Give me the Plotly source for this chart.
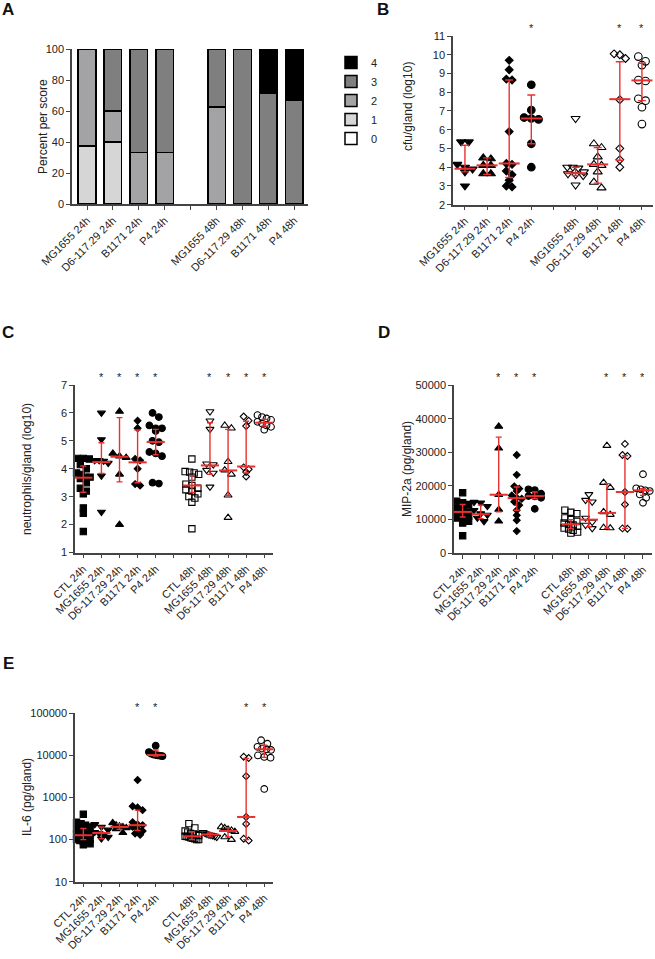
import numpy as np
import plotly.graph_objects as go

W, H = 655, 959
FONT = "Liberation Sans, Arial, sans-serif"
RED = "#e8312f"
AXC = "#444444"

# ---------------- Panel A: score distribution ----------------
score_categories = ["MG1655 24h", "D6-117.29 24h", "B1171 24h", "P4 24h", "",
                    "MG1655 48h", "D6-117.29 48h", "B1171 48h", "P4 48h"]
score_0 = [0, 0, 0, 0, 0, 0, 0, 0, 0]
score_1 = [37.5, 40, 0, 0, 0, 0, 0, 0, 0]
score_2 = [62.5, 20, 33.3, 33.3, 0, 62.5, 0, 0, 0]
score_3 = [0, 40, 66.7, 66.7, 0, 37.5, 100, 71.4, 66.7]
score_4 = [0, 0, 0, 0, 0, 0, 0, 28.6, 33.3]
score_names = ["0", "1", "2", "3", "4"]

# ---------------- Panel B: cfu/gland (log10) ----------------
cfu_categories = ["MG1655 24h", "D6-117.29 24h", "B1171 24h", "P4 24h", "",
                  "MG1655 48h", "D6-117.29 48h", "B1171 48h", "P4 48h"]
cfu_points = [
    [5.35, 5.35, 4.15, 4.0, 3.9, 3.75, 3.0],
    [4.5, 4.45, 4.1, 4.1, 3.65, 3.65],
    [9.7, 9.2, 8.7, 8.65, 5.9, 4.2, 4.15, 3.8, 3.6, 3.3, 3.0, 2.95],
    [8.4, 7.05, 6.65, 6.6, 6.55, 5.25, 4.0],
    [],
    [6.6, 4.0, 4.0, 3.95, 3.75, 3.65, 3.6, 3.55, 3.05],
    [5.25, 5.05, 4.55, 4.15, 4.1, 3.75, 3.2, 2.9],
    [10.05, 10.0, 9.8, 7.6, 5.0, 4.4, 4.0],
    [9.9, 9.65, 9.45, 8.65, 8.6, 7.65, 7.55, 7.2, 6.3],
]
cfu_median = [3.92, 4.1, 4.2, 6.6, None, 3.68, 4.15, 7.63, 8.63]
cfu_q1 = [3.75, 3.62, 3.45, 5.25, None, 3.55, 3.15, 4.37, 7.55]
cfu_q3 = [5.17, 4.5, 8.65, 7.85, None, 4.0, 5.05, 9.63, 9.55]
cfu_sig = [0, 0, 0, 1, 0, 0, 0, 1, 1]

# ---------------- shared categories for C, D, E ----------------
group_categories = ["CTL 24h", "MG1655 24h", "D6-117.29 24h", "B1171 24h", "P4 24h", "",
                    "CTL 48h", "MG1655 48h", "D6-117.29 48h", "B1171 48h", "P4 48h"]

# ---------------- Panel C: neutrophils/gland (log10) ----------------
neut_points = [
    [4.37, 4.37, 4.35, 4.15, 4.0, 3.85, 3.8, 3.7, 3.7, 3.65, 3.5, 3.3, 3.2, 3.1, 2.6, 2.4, 1.75],
    [6.0, 5.05, 4.3, 4.3, 4.28, 4.2, 3.75, 2.45],
    [6.05, 4.55, 4.45, 4.4, 3.8, 2.0],
    [5.72, 5.45, 4.35, 4.3, 4.0, 3.45, 3.4],
    [6.0, 5.85, 5.55, 5.45, 5.45, 5.35, 5.0, 4.95, 4.6, 4.55, 4.45, 3.5, 3.47],
    [],
    [4.35, 3.9, 3.88, 3.85, 3.8, 3.7, 3.45, 3.4, 3.3, 3.25, 3.2, 3.1, 3.0, 2.95, 2.8, 1.85],
    [6.05, 5.72, 5.42, 4.18, 4.15, 3.95, 3.85, 3.35],
    [5.55, 5.45, 4.25, 3.95, 3.8, 3.05, 2.25],
    [5.87, 5.72, 5.53, 4.05, 3.98, 3.88, 3.72],
    [5.92, 5.85, 5.8, 5.75, 5.68, 5.62, 5.55, 5.5, 5.4],
]
neut_median = [3.68, 4.24, 4.43, 4.23, 4.96, None, 3.4, 4.12, 3.94, 4.08, 5.65]
neut_q1 = [3.16, 3.83, 3.53, 3.5, 4.5, None, 3.15, 3.8, 3.04, 3.85, 5.53]
neut_q3 = [4.1, 4.93, 5.83, 5.39, 5.41, None, 3.75, 5.65, 5.41, 5.7, 5.77]
neut_sig = [0, 1, 1, 1, 1, 0, 0, 1, 1, 1, 1]

# ---------------- Panel D: MIP-2a (pg/gland) ----------------
mip_points = [
    [18000, 15500, 15000, 14500, 13500, 13000, 12300, 12000, 11500, 11000, 10500, 10000, 9500, 9000, 5200],
    [15200, 15000, 14000, 12800, 11800, 11400, 10500, 9500],
    [37700, 31200, 17400, 13000, 9500],
    [29200, 23300, 19900, 19200, 18500, 17200, 16500, 16200, 15300, 14300, 12800, 11300, 9800, 6600],
    [19000, 18800, 17700, 17000, 16900, 16500, 13200],
    [],
    [12800, 12200, 11800, 10500, 10000, 9500, 9000, 8600, 8400, 8000, 7500, 7200, 6800, 6300, 6000],
    [17500, 15800, 15300, 10500, 9300, 8400, 7400],
    [32000, 21000, 19500, 12300, 11500, 7600, 7500],
    [32500, 29200, 28900, 18200, 14500, 7400, 7300],
    [23500, 19300, 19000, 18700, 18500, 17500, 16500, 15000],
]
mip_median = [12300, 11600, 17400, 16400, 17000, None, 8600, 10000, 12000, 18200, 18700]
mip_q1 = [10800, 10300, 12300, 12800, 16200, None, 7400, 7900, 7400, 7400, 17200]
mip_q3 = [14500, 14300, 34500, 19700, 18200, None, 10000, 15700, 20700, 29000, 19200]
mip_sig = [0, 0, 1, 1, 1, 0, 0, 0, 1, 1, 1]

# ---------------- Panel E: IL-6 (pg/gland) ----------------
il6_points = [
    [400, 260, 240, 220, 200, 180, 170, 160, 150, 140, 135, 130, 125, 120, 115, 110, 105, 100, 95, 90, 85, 80, 75],
    [230, 200, 170, 150, 140, 130, 115, 105],
    [250, 220, 210, 200, 190, 180, 145],
    [2600, 620, 580, 500, 260, 230, 220, 200, 180, 160, 140, 130],
    [17000, 12000, 11000, 10500, 10200, 10000, 9800, 9600],
    [],
    [240, 190, 160, 150, 140, 135, 130, 125, 120, 118, 115, 110, 108, 105, 100, 100],
    [150, 140, 135, 130, 128, 125, 120, 115],
    [200, 190, 175, 165, 155, 115, 100],
    [9300, 8700, 3200, 345, 235, 105, 95],
    [23000, 19000, 16000, 14500, 14000, 13500, 10000, 9200, 8800, 1600],
]
il6_median = [127, 144, 200, 220, 10200, None, 120, 132, 160, 345, 14000]
il6_q1 = [100, 105, 175, 165, 9700, None, 100, 116, 116, 100, 9000]
il6_q3 = [183, 200, 240, 500, 13400, None, 153, 144, 193, 8500, 17500]
il6_sig = [0, 0, 0, 1, 1, 0, 0, 0, 0, 1, 1]

# ---------------- styles ----------------
score_colors = {"0": "#ffffff", "1": "#d6d6d6", "2": "#a3a3a6", "3": "#7f7f7f", "4": "#000000"}
strain_symbols = {"CTL": "square", "MG1655": "triangle-down", "D6-117.29": "triangle-up",
                  "B1171": "diamond", "P4": "circle"}
symbol_scale = {"square": 0.9, "triangle-down": 1.0, "triangle-up": 1.0, "diamond": 0.75, "circle": 0.95}


def px_x(p):
    return p / W


def px_y(p):
    return 1 - p / H


fig = go.Figure()

# panel geometry (pixel boxes), ranges and star row (pixel y)
panels = {
    "A": dict(xa="x", ya="y", xd=(72, 308), yd=(49, 204), xr=(-0.58, 8.53), yr=(0, 100)),
    "B": dict(xa="x2", ya="y2", xd=(453, 653), yd=(36, 204.7), xr=(-0.54, 8.5), yr=(2, 11), star=28),
    "C": dict(xa="x3", ya="y3", xd=(75, 273.3), yd=(385, 552.5), xr=(-0.46, 10.5), yr=(1, 7), star=377),
    "D": dict(xa="x4", ya="y4", xd=(454, 652), yd=(385, 553.3), xr=(-0.48, 10.5), yr=(0, 50000), star=377),
    "E": dict(xa="x5", ya="y5", xd=(75, 273.3), yd=(713.3, 881.7), xr=(-0.46, 10.5), yr=(1, 5), star=707),
}

# ---------------- Panel A bars ----------------
bar_idx = [i for i, c in enumerate(score_categories) if c != ""]
for name, vals in zip(score_names, [score_0, score_1, score_2, score_3, score_4]):
    fig.add_trace(go.Bar(
        x=bar_idx, y=[vals[i] if vals[i] > 0 else None for i in bar_idx],
        name=name, width=0.68,
        marker=dict(color=score_colors[name], line=dict(color="#000000", width=1.5)),
        xaxis="x", yaxis="y", showlegend=True,
    ))


def swarm_offsets(vals, d, pxx, pxy, logy, maxw):
    v = np.log10(np.array(vals, float)) if logy else np.array(vals, float)
    ypx = v * pxy
    order = np.argsort(-ypx)
    rows = []
    for i in order:
        if rows and abs(ypx[rows[-1][0]] - ypx[i]) < 0.8 * d:
            rows[-1].append(i)
        else:
            rows.append([i])
    offs = np.zeros(len(vals))
    for r in rows:
        n = len(r)
        if n == 1:
            continue
        step = min(0.95 * d, maxw / (n - 1))
        for j, i in enumerate(r):
            offs[i] = (j - (n - 1) / 2) * step
    return offs / pxx


def add_dot_panel(key, cats, points, med, q1, q3, sig, size, medw, capw, logy=False):
    P = panels[key]
    pxx = (P["xd"][1] - P["xd"][0]) / (P["xr"][1] - P["xr"][0])
    pxy = (P["yd"][1] - P["yd"][0]) / (P["yr"][1] - P["yr"][0])
    for i, (c, pts) in enumerate(zip(cats, points)):
        if not pts:
            continue
        strain, t = c.rsplit(" ", 1)
        sym = strain_symbols[strain]
        filled = t == "24h"
        msize = size * symbol_scale[sym]
        offs = swarm_offsets(pts, msize, pxx, pxy, logy, maxw=0.75 * pxx)
        fig.add_trace(go.Scatter(
            x=i + offs, y=pts, mode="markers",
            marker=dict(symbol=sym if filled else sym + "-open", size=msize,
                        color="#000000", line=dict(color="#000000", width=1.1)),
            xaxis=P["xa"], yaxis=P["ya"], showlegend=False, cliponaxis=False,
            hoverinfo="y",
        ))
    idx = [i for i, m in enumerate(med) if m is not None]
    fig.add_trace(go.Scatter(
        x=idx, y=[med[i] for i in idx], mode="markers",
        marker=dict(symbol="line-ew", size=medw, color=RED, line=dict(color=RED, width=2)),
        error_y=dict(type="data", symmetric=False,
                     array=[q3[i] - med[i] for i in idx],
                     arrayminus=[med[i] - q1[i] for i in idx],
                     color=RED, thickness=1.4, width=capw),
        xaxis=P["xa"], yaxis=P["ya"], showlegend=False, cliponaxis=False,
    ))
    for i, s in enumerate(sig):
        if s:
            fig.add_annotation(text="*", x=i, y=px_y(P["star"]),
                               xref=P["xa"], yref="paper", showarrow=False,
                               xanchor="center", yanchor="middle",
                               font=dict(family=FONT, size=11, color="#222"))


add_dot_panel("B", cfu_categories, cfu_points, cfu_median, cfu_q1, cfu_q3, cfu_sig, 8, 15, 4)
add_dot_panel("C", group_categories, neut_points, neut_median, neut_q1, neut_q3, neut_sig, 7, 13, 3)
add_dot_panel("D", group_categories, mip_points, mip_median, mip_q1, mip_q3, mip_sig, 7, 13, 3)
add_dot_panel("E", group_categories, il6_points, il6_median, il6_q1, il6_q3, il6_sig, 7, 13, 3, logy=True)

axis_common = dict(showline=True, linecolor=AXC, linewidth=1.5, ticks="outside", ticklen=4,
                   tickwidth=1.2, tickcolor=AXC, showgrid=False, zeroline=False, automargin=False,
                   tickfont=dict(family=FONT, size=11, color="#222"), fixedrange=True)

layout = dict(
    template="none",
    width=W, height=H, margin=dict(l=0, r=0, t=0, b=0, pad=0),
    paper_bgcolor="white", plot_bgcolor="white",
    barmode="stack", showlegend=True,
    font=dict(family=FONT, color="#222"),
    legend=dict(x=px_x(331), y=px_y(48), xanchor="left", yanchor="top",
                traceorder="reversed", font=dict(family=FONT, size=11, color="#222"),
                bgcolor="rgba(0,0,0,0)", tracegroupgap=0),
)

cats_for = {"A": score_categories, "B": cfu_categories, "C": group_categories,
            "D": group_categories, "E": group_categories}
for k, P in panels.items():
    n = P["xa"][1:]
    xn = "xaxis" + n
    yn = "yaxis" + n
    cats = cats_for[k]
    layout[xn] = dict(axis_common, domain=[px_x(P["xd"][0]), px_x(P["xd"][1])],
                      range=list(P["xr"]), tickmode="array", tickvals=list(range(len(cats))),
                      ticktext=cats, tickangle=-45, anchor=P["ya"])
    ydict = dict(axis_common, domain=[px_y(P["yd"][1]), px_y(P["yd"][0])],
                 range=list(P["yr"]), anchor=P["xa"])
    if k == "A":
        ydict.update(tickmode="array", tickvals=[0, 20, 40, 60, 80, 100])
    elif k == "B":
        ydict.update(tickmode="array", tickvals=list(range(2, 12)))
    elif k == "C":
        ydict.update(tickmode="array", tickvals=list(range(1, 8)))
    elif k == "D":
        ydict.update(tickmode="array", tickvals=[0, 10000, 20000, 30000, 40000, 50000],
                     ticktext=["0", "10000", "20000", "30000", "40000", "50000"])
    elif k == "E":
        ydict.update(type="log", tickmode="array", tickvals=[10, 100, 1000, 10000, 100000],
                     ticktext=["10", "100", "1000", "10000", "100000"])
    layout[yn] = ydict

fig.update_layout(**layout)

# y-axis titles
titles = [("Percent per score", 43, 127), ("cfu/gland (log10)", 408, 107),
          ("neutrophils/gland (log10)", 27, 469), ("MIP-2a (pg/gland)", 407, 469),
          ("IL-6 (pg/gland)", 27, 797)]
for t, x, y in titles:
    fig.add_annotation(text=t, x=px_x(x), y=px_y(y), xref="paper", yref="paper",
                       textangle=-90, showarrow=False, xanchor="center", yanchor="middle",
                       font=dict(family=FONT, size=12, color="#222"))

# panel letters
for t, x, y in [("A", 8, 10), ("B", 383, 10), ("C", 8, 332), ("D", 384, 332), ("E", 8, 663)]:
    fig.add_annotation(text="<b>%s</b>" % t, x=px_x(x), y=px_y(y), xref="paper", yref="paper",
                       showarrow=False, xanchor="center", yanchor="middle",
                       font=dict(family=FONT, size=17, color="#111"))

fig.write_html("out.html", config={"displayModeBar": False},
               post_script="document.body.style.margin='0px';document.body.style.overflow='hidden';")
